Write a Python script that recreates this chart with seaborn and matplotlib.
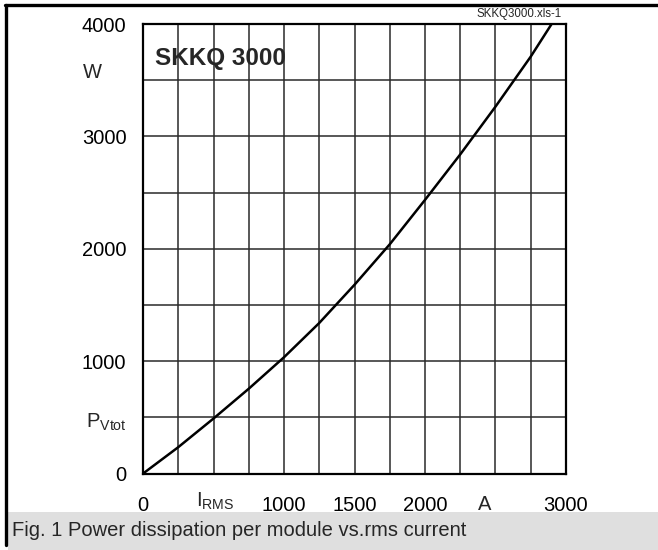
import matplotlib
matplotlib.use("Agg")
import matplotlib.pyplot as plt
from matplotlib.lines import Line2D
from matplotlib.patches import Rectangle
import seaborn as sns
import pandas as pd

# ---- data ----
current_a = [0, 250, 500, 750, 1000, 1250, 1500, 1750, 2000, 2250, 2500, 2750, 2898]
power_w = [0, 235, 490, 755, 1035, 1340, 1680, 2040, 2435, 2840, 3265, 3710, 4000]

x_tick_values = [0, 1000, 1500, 2000, 3000]
x_tick_labels = ["0", "1000", "1500", "2000", "3000"]
y_tick_values = [0, 1000, 2000, 3000, 4000]
y_tick_labels = ["0", "1000", "2000", "3000", "4000"]
x_grid_step = 250
y_grid_step = 500

title_text = "SKKQ 3000"
file_text = "SKKQ3000.xls-1"
caption_text = "Fig. 1 Power dissipation per module vs.rms current"

# ---- style ----
sns.set_theme(style="white")
plt.rcParams["font.family"] = ["Liberation Sans", "DejaVu Sans"]
plt.rcParams["mathtext.fontset"] = "custom"
plt.rcParams["mathtext.rm"] = "Liberation Sans"
plt.rcParams["mathtext.it"] = "Liberation Sans"

W, H = 658, 550
fig = plt.figure(figsize=(W / 100, H / 100), dpi=100)
fig.patch.set_facecolor("white")

def fx(px):
    return px / W

def fy(py):
    return 1 - py / H

FS = 14.5
ax_left, ax_right, ax_top, ax_bottom = 143, 566, 24, 473.6
ax = fig.add_axes([fx(ax_left), fy(ax_bottom), (ax_right - ax_left) / W, (ax_bottom - ax_top) / H])

df = pd.DataFrame({"I": current_a, "P": power_w})
sns.lineplot(data=df, x="I", y="P", ax=ax, color="black", linewidth=1.8, zorder=5)

ax.set_xlim(0, 3000)
ax.set_ylim(0, 4000)

# ticks at every grid line; labels only where the reference has them
xt = list(range(0, 3001, x_grid_step))
yt = list(range(0, 4001, y_grid_step))
ax.set_xticks(xt)
ax.set_xticklabels([x_tick_labels[x_tick_values.index(v)] if v in x_tick_values else "" for v in xt])
ax.set_yticks(yt)
ax.set_yticklabels([y_tick_labels[y_tick_values.index(v)] if v in y_tick_values else "" for v in yt])
ax.grid(which="major", color="#2a2a2a", linewidth=1.1)
ax.tick_params(which="both", length=0)
ax.tick_params(axis="x", labelsize=FS, pad=16, colors="black")
ax.tick_params(axis="y", labelsize=FS, pad=12, colors="black")
ax.set_xlabel("")
ax.set_ylabel("")
for s in ax.spines.values():
    s.set_color("black")
    s.set_linewidth(1.6)
    s.set_zorder(6)

# unit / symbol labels
fig.text(fx(83), fy(73), "W", fontsize=FS, ha="left", va="center")
fig.text(fx(126.5), fy(422), r"$\mathrm{P}_{\mathrm{Vtot}}$", fontsize=FS, ha="right", va="center")
fig.text(fx(215), fy(501), r"$\mathrm{I}_{\mathrm{RMS}}$", fontsize=FS, ha="center", va="center")
fig.text(fx(485), fy(505), "A", fontsize=FS, ha="center", va="center")

# title inside the plot
ax.text(0.028, (ax_bottom - 58) / (ax_bottom - ax_top), title_text,
        transform=ax.transAxes, fontsize=17.5, fontweight="bold", ha="left", va="center", zorder=7)

# file name at top right
fig.text(fx(562), fy(14), file_text, fontsize=8.3, ha="right", va="center")

# frame lines
fig.add_artist(Line2D([fx(5), 1.0], [fy(5), fy(5)], color="black", linewidth=2.4,
                      transform=fig.transFigure))
fig.add_artist(Line2D([fx(6), fx(6)], [fy(5), fy(545)], color="black", linewidth=2.4,
                      transform=fig.transFigure))

# caption box
fig.add_artist(Rectangle((fx(7.5), 0), 1 - fx(7.5), fy(512), transform=fig.transFigure,
                         facecolor="#dfdfdf", edgecolor="none", zorder=0))
fig.text(fx(11.5), fy(530), caption_text, fontsize=FS, ha="left", va="center")

fig.savefig("out.png", dpi=100)
